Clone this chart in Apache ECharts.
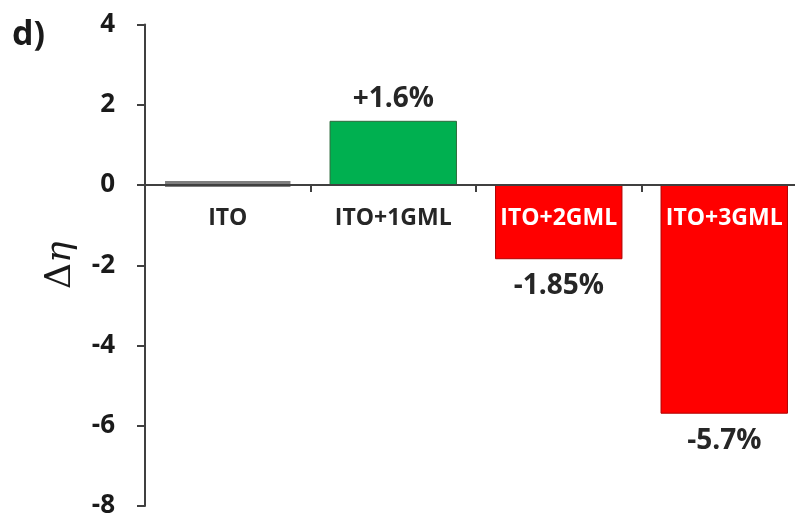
<!DOCTYPE html>
<html>
<head>
<meta charset="utf-8">
<script src="https://cdn.jsdelivr.net/npm/echarts@6/dist/echarts.min.js"></script>
<style>
html,body{margin:0;padding:0;background:#fff;}
#chart{width:795px;height:518px;}
</style>
</head>
<body>
<div id="chart"></div>
<script>
const categories = ['ITO', 'ITO+1GML', 'ITO+2GML', 'ITO+3GML'];
const values = [0.05, 1.6, -1.85, -5.7];
const valueLabels = ['', '+1.6%', '-1.85%', '-5.7%'];
const yTicks = [-8, -6, -4, -2, 0, 2, 4];

const barColors = ['#7f7f7f', '#00b050', '#ff0000', '#ff0000'];
const barBorders = ['#7f7f7f', '#2e6b3c', '#b00000', '#b00000'];
const catLabelColors = ['#262626', '#262626', '#ffffff', '#ffffff'];

const chart = echarts.init(document.getElementById('chart'), null, {renderer: 'canvas'});
const FONT = '"Open Sans", "DejaVu Sans", sans-serif';

chart.setOption({
  animation: false,
  backgroundColor: '#fff',
  grid: {left: 145, right: -12, top: 24.5, bottom: 12, containLabel: false, outerBoundsMode: 'none'},
  graphic: [{
    type: 'text', left: 12, top: 18,
    style: {text: 'd)', font: 'bold 34px ' + FONT, fill: '#1a1a1a'}
  }],
  xAxis: {
    type: 'category',
    data: categories,
    z: 10,
    axisLine: {onZero: true, lineStyle: {color: '#404040', width: 2}},
    axisTick: {show: true, length: 7, inside: false, interval: 0, lineStyle: {color: '#404040', width: 2}},
    axisLabel: {show: false},
    splitLine: {show: false}
  },
  yAxis: {
    type: 'value',
    min: yTicks[0], max: yTicks[yTicks.length - 1], interval: 2,
    name: '{d|Δ}{e|η}',
    nameLocation: 'middle',
    nameGap: 66,
    nameRotate: 90,
    nameTextStyle: {
      rich: {
        d: {fontFamily: '"DejaVu Serif", serif', fontSize: 36, color: '#1a1a1a'},
        e: {fontFamily: '"DejaVu Serif", serif', fontStyle: 'italic', fontSize: 36, color: '#1a1a1a'}
      }
    },
    axisLine: {show: true, lineStyle: {color: '#404040', width: 2}},
    axisTick: {show: true, length: 8, lineStyle: {color: '#404040', width: 2}},
    axisLabel: {margin: 30, fontFamily: FONT, fontWeight: 'bold', fontSize: 26, color: '#1a1a1a'},
    splitLine: {show: false}
  },
  series: [{
    type: 'bar',
    barWidth: '77%',
    data: values.map(function (v, i) {
      return {
        value: v,
        itemStyle: {color: barColors[i], borderColor: barBorders[i], borderWidth: i === 0 ? 6 : 1},
        label: {
          show: valueLabels[i] !== '',
          position: v >= 0 ? 'top' : 'bottom',
          distance: v >= 0 ? 8 : 13,
          formatter: valueLabels[i],
          fontFamily: FONT, fontWeight: 'bold', fontSize: 28, color: '#262626'
        }
      };
    })
  }, {
    type: 'bar',
    barWidth: '77%',
    barGap: '-100%',
    silent: true,
    z: 5,
    itemStyle: {color: 'rgba(0,0,0,0)'},
    data: categories.map(function (c, i) {
      return {
        value: 0,
        label: {
          show: true, position: 'bottom', distance: 22,
          formatter: c,
          fontFamily: FONT, fontWeight: 'bold', fontSize: 23, color: catLabelColors[i]
        }
      };
    })
  }]
});
</script>
</body>
</html>
